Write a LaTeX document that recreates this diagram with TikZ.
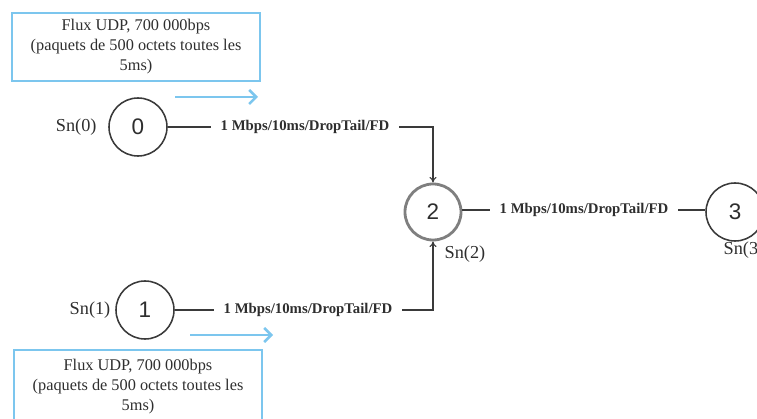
\documentclass[tikz,border=0pt]{standalone}
\usepackage{fontspec}
\setmainfont{Liberation Serif}
\newfontfamily\numfont{Liberation Sans}
\definecolor{flowblue}{HTML}{7CC6EE}
\definecolor{nodeline}{HTML}{3A3A3A}
\definecolor{textgray}{HTML}{2E2E2E}
\usetikzlibrary{positioning,arrows.meta}

\begin{document}
\begin{tikzpicture}[
  x=0.025cm,y=-0.025cm,
  host/.style={circle,draw=nodeline,line width=1.1pt,minimum size=1.45cm,
    inner sep=0pt,text=textgray,font=\numfont\fontsize{16}{18}\selectfont},
  router/.style={host,draw=nodeline!65,line width=2pt,minimum size=1.4cm},
  flowbox/.style={rectangle,draw=flowblue,line width=1.4pt,minimum width=6.2cm,
    minimum height=1.7cm,align=center,text=textgray,
    font=\fontsize{11.6}{14.2}\selectfont},
  linklbl/.style={font=\bfseries\fontsize{10.5}{12}\selectfont,text=textgray,
    inner xsep=7pt},
  snlbl/.style={font=\fontsize{13}{15}\selectfont,text=textgray,inner sep=1pt},
  link/.style={draw=nodeline,line width=0.8pt},
  arr/.style={link,-{To[length=4pt,width=5pt]}},
  flowarr/.style={draw=flowblue,line width=1.8pt,
    -{Straight Barb[length=5pt,width=10pt]}}
]
  \clip (0,0) rectangle (757,419);

  % nodes
  \node[host] (n0) at (138,127) {0};
  \node[host] (n1) at (145,310) {1};
  \node[router] (n2) at (433,212) {2};
  \node[host] (n3) at (735,212) {3};

  \node[snlbl,left=0.25cm of n0] {Sn(0)};
  \node[snlbl,left=0.08cm of n1] {Sn(1)};
  \node[snlbl,below right=0.07cm and 0.25cm of n2.south] {Sn(2)};
  \node[snlbl,anchor=north west] at (722,240) {Sn(3)};

  % links
  \node[linklbl] (l02) at (305,127) {1 Mbps/10ms/DropTail/FD};
  \node[linklbl] (l12) at (308,310) {1 Mbps/10ms/DropTail/FD};
  \node[linklbl] (l23) at (584,210) {1 Mbps/10ms/DropTail/FD};

  \draw[link] (n0) -- (l02);
  \draw[arr] (l02.east) -| (n2.north);
  \draw[link] (n1) -- (l12);
  \draw[arr] (l12.east) -| (n2.south);
  \draw[link] (n2.east |- l23) -- (l23);
  \draw[link] (l23) -- (n3.west |- l23);

  % UDP flows
  \node[flowbox] (f0) at (136,47)
    {Flux UDP, 700 000bps\\(paquets de 500 octets toutes les\\5ms)};
  \node[flowbox,minimum height=1.85cm] (f1) at (138,387)
    {Flux UDP, 700 000bps\\(paquets de 500 octets toutes les\\5ms)};

  \coordinate (a0s) at (175,97);
  \coordinate (a0e) at (258,97);
  \coordinate (a1s) at (190,335);
  \coordinate (a1e) at (273,335);
  \draw[flowarr] (a0s) -- (a0e);
  \draw[flowarr] (a1s) -- (a1e);
\end{tikzpicture}
\end{document}
